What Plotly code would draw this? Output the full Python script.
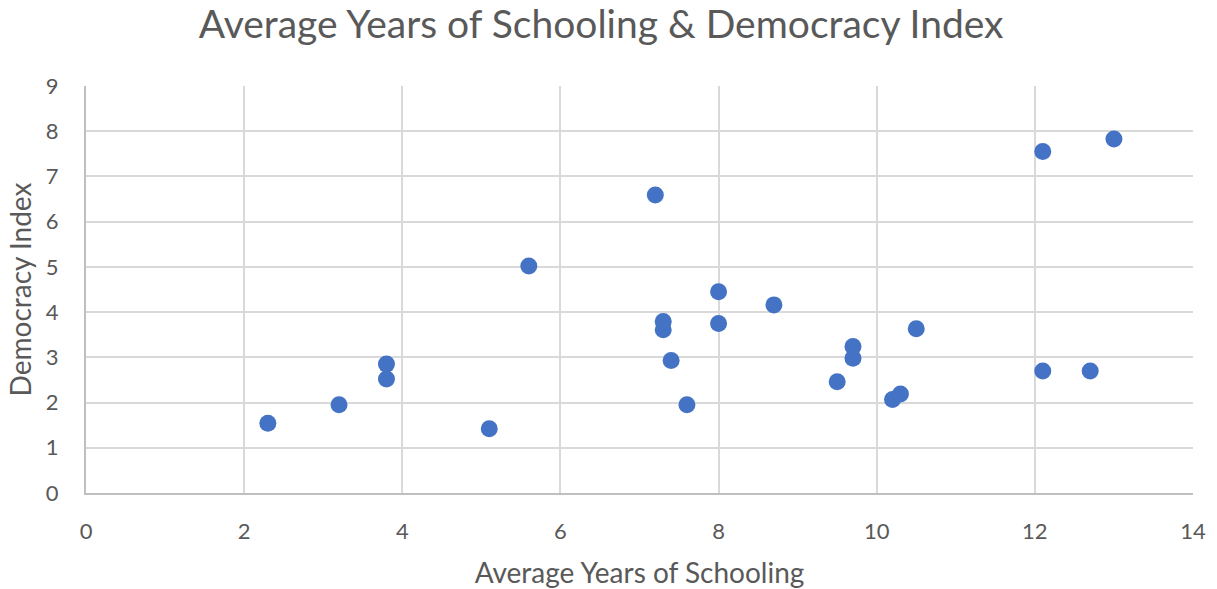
import plotly.graph_objects as go

# Average years of schooling vs. democracy index, one point per country
schooling = [2.3, 3.2, 3.8, 3.8, 5.1, 5.6, 7.2, 7.3, 7.3, 7.4, 7.6, 8.0, 8.0,
             8.7, 9.5, 9.7, 9.7, 10.2, 10.3, 10.5, 12.1, 12.1, 12.7, 13.0]
democracy = [1.54, 1.95, 2.85, 2.52, 1.42, 5.02, 6.59, 3.79, 3.61, 2.93, 1.95, 4.45, 3.75,
             4.16, 2.46, 3.24, 2.98, 2.07, 2.19, 3.63, 7.55, 2.70, 2.70, 7.83]

x_ticks = [0, 2, 4, 6, 8, 10, 12, 14]
y_ticks = [0, 1, 2, 3, 4, 5, 6, 7, 8, 9]

TEXT = "#595959"
GRID = "#d9d9d9"
AXIS = "#bfbfbf"
FONT = "Lato, 'Open Sans', sans-serif"

fig = go.Figure(
    go.Scatter(
        x=schooling,
        y=democracy,
        mode="markers",
        marker=dict(color="#4472C4", size=17, line=dict(width=0)),
        hoverinfo="x+y",
    )
)

fig.update_layout(
    width=1217,
    height=589,
    margin=dict(l=86, r=24, t=86, b=96, autoexpand=False),
    paper_bgcolor="white",
    plot_bgcolor="white",
    showlegend=False,
    font=dict(family=FONT, color=TEXT, size=22),
    title=dict(
        text="Average Years of Schooling &amp; Democracy Index",
        x=0.494,
        xref="container",
        xanchor="center",
        y=0.958,
        yanchor="middle",
        font=dict(size=39, color=TEXT, family=FONT),
    ),
    xaxis=dict(
        range=[0, 14],
        tickvals=x_ticks,
        showgrid=True,
        gridcolor=GRID,
        gridwidth=2,
        zeroline=False,
        showline=True,
        linecolor=AXIS,
        linewidth=2,
        ticks="",
        automargin=False,
        ticklabelstandoff=18,
        tickfont=dict(size=22, color=TEXT),
        title=dict(text="Average Years of Schooling", font=dict(size=28, color=TEXT), standoff=20),
        mirror=False,
    ),
    yaxis=dict(
        range=[0, 9],
        tickvals=y_ticks,
        showgrid=True,
        gridcolor=GRID,
        gridwidth=2,
        zeroline=False,
        showline=True,
        linecolor=AXIS,
        linewidth=2,
        ticks="",
        automargin=False,
        ticklabelstandoff=21,
        tickfont=dict(size=22, color=TEXT),
        title=dict(text="Democracy Index", font=dict(size=28, color=TEXT), standoff=6),
    ),
)

fig.write_html("out.html")
